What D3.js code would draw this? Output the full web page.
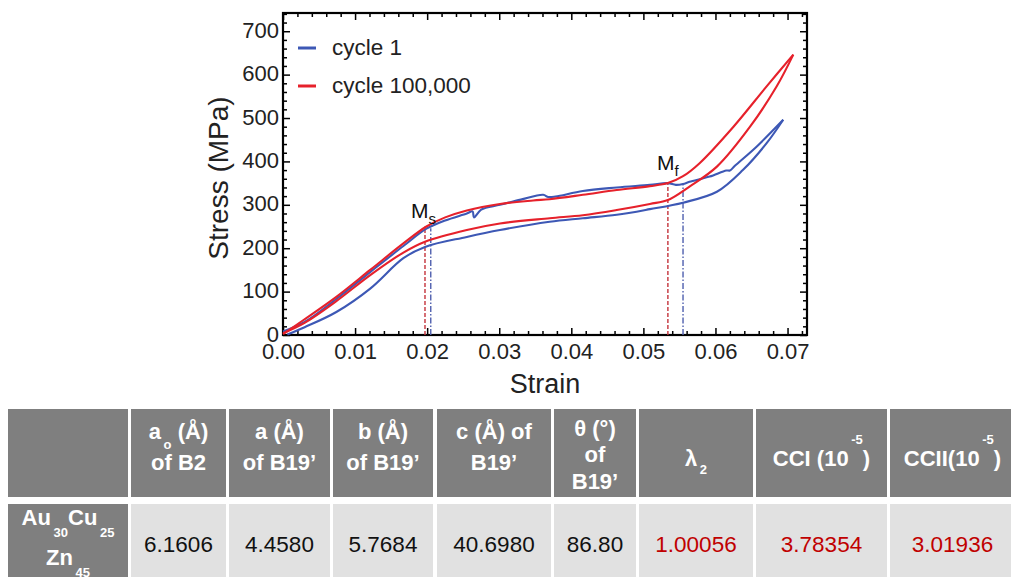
<!DOCTYPE html>
<html>
<head>
<meta charset="utf-8">
<script src="https://cdn.jsdelivr.net/npm/d3@7"></script>
<style>
  body { margin: 0; background: #fff; }
  svg { display: block; font-family: "Liberation Sans", Arial, sans-serif; }
</style>
</head>
<body>
<script>
// ---- data ----
var xTicks = [0, 0.01, 0.02, 0.03, 0.04, 0.05, 0.06, 0.07];
var yTicks = [0, 100, 200, 300, 400, 500, 600, 700];

// [strain, stress MPa]
var cycle1Loading = [
  [0.0000, 8], [0.0030, 30], [0.0074, 83], [0.0121, 145], [0.0167, 205],
  [0.0199, 245], [0.0225, 264], [0.0255, 280], [0.0263, 285], [0.0265, 271],
  [0.0275, 289], [0.0301, 300], [0.0330, 312], [0.0361, 323], [0.0368, 318],
  [0.0378, 319], [0.0416, 332], [0.0463, 340], [0.0509, 346], [0.0534, 350],
  [0.0545, 346], [0.0555, 348], [0.0564, 353], [0.0592, 365], [0.0615, 379],
  [0.0620, 379], [0.0627, 390], [0.0657, 434], [0.0694, 496]
];
var cycle1Unloading = [
  [0.0694, 496], [0.0671, 442], [0.0638, 380], [0.0602, 330], [0.0555, 305],
  [0.0509, 290], [0.0463, 277], [0.0416, 269], [0.0370, 261], [0.0301, 242],
  [0.0255, 226], [0.0197, 203], [0.0167, 177], [0.0121, 107], [0.0074, 53],
  [0.0030, 18], [0.0006, 1]
];
var cycle100kLoading = [
  [0.0000, 2], [0.0028, 34], [0.0074, 88], [0.0121, 150], [0.0167, 211],
  [0.0199, 250], [0.0225, 271], [0.0255, 287], [0.0301, 302], [0.0347, 310],
  [0.0370, 313], [0.0416, 323], [0.0463, 334], [0.0509, 343], [0.0534, 350],
  [0.0555, 366], [0.0578, 396], [0.0625, 480], [0.0671, 573], [0.0708, 646]
];
var cycle100kUnloading = [
  [0.0708, 646], [0.0685, 573], [0.0648, 480], [0.0602, 388], [0.0564, 342],
  [0.0534, 311], [0.0509, 302], [0.0463, 288], [0.0416, 276], [0.0370, 269],
  [0.0301, 257], [0.0255, 242], [0.0197, 215], [0.0167, 190], [0.0121, 138],
  [0.0074, 78], [0.0030, 28], [0.0000, 4]
];

// transformation markers: strain and stress where the guide line stops
var msMarkers = [[0.0197, 250, "red"], [0.0205, 246, "blue"]];
var mfMarkers = [[0.0534, 350, "red"], [0.0555, 347, "blue"]];

var legendLabels = ["cycle 1", "cycle 100,000"];

// table
var headerLabels = [
  "",
  "a_{o} (Å)|of B2",
  "a (Å)|of B19’",
  "b (Å)|of B19’",
  "c (Å) of|B19’",
  "θ (°)|of|B19’",
  "λ_{2}",
  "CCI (10^{-5})",
  "CCII(10^{-5})"
];
var rowLabel = "Au_{30}Cu_{25}|Zn_{45}";
var rowValues = ["6.1606", "4.4580", "5.7684", "40.6980", "86.80", "1.00056", "3.78354", "3.01936"];
var redColumns = [5, 6, 7]; // index into rowValues

// ---- setup ----
var W = 1011, H = 577;
var blue = "#3d58b5", red = "#e6212b";
var svg = d3.select("body").append("svg")
    .attr("width", W).attr("height", H);

var x = d3.scaleLinear().domain([0, 0.0727]).range([283, 807]);
var y = d3.scaleLinear().domain([0, 742]).range([335, 13]);

var plot = svg.append("g");

// minor ticks
var xMinor = d3.range(0, 0.0727, 0.002).filter(function (v) {
    return Math.abs(v * 100 - Math.round(v * 100)) > 1e-6;
});
var yMinor = d3.range(0, 742, 20).filter(function (v) { return v % 100 !== 0; });

function styleAxis(g) {
    g.select(".domain").remove();
    g.selectAll(".tick line").attr("stroke", "#000").attr("stroke-width", 1.5);
    g.selectAll("text").attr("fill", "#222").style("font-size", "22px")
        .style("font-family", "'Liberation Sans', Arial, sans-serif");
}

// bottom
plot.append("g").attr("transform", "translate(0," + y(0) + ")")
    .call(d3.axisBottom(x).tickValues(xTicks).tickSize(-7).tickPadding(8)
        .tickFormat(d3.format(".2f")))
    .call(styleAxis);
plot.append("g").attr("transform", "translate(0," + y(0) + ")")
    .call(d3.axisBottom(x).tickValues(xMinor).tickSize(-4).tickFormat(""))
    .call(styleAxis);
// top
plot.append("g").attr("transform", "translate(0," + y.range()[1] + ")")
    .call(d3.axisTop(x).tickValues(xTicks).tickSize(-7).tickFormat(""))
    .call(styleAxis);
plot.append("g").attr("transform", "translate(0," + y.range()[1] + ")")
    .call(d3.axisTop(x).tickValues(xMinor).tickSize(-4).tickFormat(""))
    .call(styleAxis);
// left
plot.append("g").attr("transform", "translate(" + x(0) + ",0)")
    .call(d3.axisLeft(y).tickValues(yTicks).tickSize(-7).tickPadding(4))
    .call(styleAxis)
    .selectAll(".tick text").attr("dy", "0.28em");
plot.append("g").attr("transform", "translate(" + x(0) + ",0)")
    .call(d3.axisLeft(y).tickValues(yMinor).tickSize(-4).tickFormat(""))
    .call(styleAxis);
// right
plot.append("g").attr("transform", "translate(" + x.range()[1] + ",0)")
    .call(d3.axisRight(y).tickValues(yTicks).tickSize(-7).tickFormat(""))
    .call(styleAxis);
plot.append("g").attr("transform", "translate(" + x.range()[1] + ",0)")
    .call(d3.axisRight(y).tickValues(yMinor).tickSize(-4).tickFormat(""))
    .call(styleAxis);

// frame
plot.append("rect")
    .attr("x", x.range()[0]).attr("y", y.range()[1])
    .attr("width", x.range()[1] - x.range()[0])
    .attr("height", y.range()[0] - y.range()[1])
    .attr("fill", "none").attr("stroke", "#000").attr("stroke-width", 2.2);

// guide lines
function guides(markers) {
    plot.selectAll(null).data(markers).enter().append("line")
        .attr("x1", function (d) { return x(d[0]); })
        .attr("x2", function (d) { return x(d[0]); })
        .attr("y1", y(0))
        .attr("y2", function (d) { return y(d[1]); })
        .attr("stroke", function (d) { return d[2] === "red" ? "#c4333b" : "#4f5fae"; })
        .attr("stroke-width", 1.4)
        .attr("stroke-dasharray", function (d) { return d[2] === "red" ? "4,2" : "6,2,1.5,2"; });
}
guides(msMarkers);
guides(mfMarkers);

// curves
var line = d3.line()
    .x(function (d) { return x(d[0]); })
    .y(function (d) { return y(d[1]); })
    .curve(d3.curveCatmullRom.alpha(0.5));

[[cycle1Loading, blue], [cycle1Unloading, blue],
 [cycle100kUnloading, red], [cycle100kLoading, red]].forEach(function (c) {
    plot.append("path")
        .attr("d", line(c[0]))
        .attr("fill", "none")
        .attr("stroke", c[1])
        .attr("stroke-width", 2.1)
        .attr("stroke-linejoin", "round");
});

// Ms / Mf labels
function markLabel(m, sub, dx, dy) {
    var t = plot.append("text")
        .attr("x", x(m[0]) + dx).attr("y", y(m[1]) + dy)
        .attr("fill", "#111").style("font-size", "21px");
    t.append("tspan").text("M");
    t.append("tspan").attr("dy", 6).style("font-size", "15px").text(sub);
}
markLabel(msMarkers[0], "s", -14, -9);
markLabel(mfMarkers[0], "f", -11, -13);

// legend
var legend = plot.append("g");
legend.selectAll("line").data(legendLabels).enter().append("line")
    .attr("x1", 298).attr("x2", 316)
    .attr("y1", function (d, i) { return 48 + i * 38; })
    .attr("y2", function (d, i) { return 48 + i * 38; })
    .attr("stroke", function (d, i) { return i === 0 ? blue : red; })
    .attr("stroke-width", 3);
legend.selectAll("text").data(legendLabels).enter().append("text")
    .attr("x", 332)
    .attr("y", function (d, i) { return 55 + i * 38; })
    .attr("fill", "#222").style("font-size", "22.5px")
    .text(function (d) { return d; });

// axis titles
plot.append("text")
    .attr("x", (x.range()[0] + x.range()[1]) / 2).attr("y", 393)
    .attr("text-anchor", "middle").attr("fill", "#222")
    .style("font-size", "27px").text("Strain");
plot.append("text")
    .attr("transform", "translate(228,178) rotate(-90)")
    .attr("text-anchor", "middle").attr("fill", "#222")
    .style("font-size", "28px").text("Stress (MPa)");

// ---- table ----
var colEdges = [[8, 128], [131, 226], [229, 330], [333, 433], [437, 551],
                [554, 636], [639, 753], [756, 887], [890, 1015]];
var headTop = 409, headBottom = 497, rowTop = 504, rowBottom = 585;
var gray = "#7f7f7f", light = "#e1e1e1";

// parses "a_{o} (Å)" style markup into tspans
function richLine(textSel, str, fs, subDy, supDy) {
    var re = /(_\{[^}]*\}|\^\{[^}]*\})/;
    var parts = str.split(re).filter(function (p) { return p.length; });
    var shift = 0;
    parts.forEach(function (p) {
        if (p[0] === "_" || p[0] === "^") {
            var d = p[0] === "_" ? subDy : supDy;
            textSel.append("tspan").attr("dy", d - shift)
                .style("font-size", Math.round(fs * 0.6) + "px")
                .text("\u2009" + p.slice(2, -1));
            shift = d;
        } else {
            var ts = textSel.append("tspan").text(p);
            if (shift !== 0) { ts.attr("dy", -shift); shift = 0; }
        }
    });
}

var table = svg.append("g");
table.selectAll(".hcell").data(colEdges).enter().append("rect")
    .attr("x", function (d) { return d[0]; }).attr("y", headTop)
    .attr("width", function (d) { return d[1] - d[0]; })
    .attr("height", headBottom - headTop)
    .attr("fill", gray);
table.selectAll(".rcell").data(colEdges).enter().append("rect")
    .attr("x", function (d) { return d[0]; }).attr("y", rowTop)
    .attr("width", function (d) { return d[1] - d[0]; })
    .attr("height", rowBottom - rowTop)
    .attr("fill", function (d, i) { return i === 0 ? gray : light; });

var baselines = { 1: [466], 2: [439, 470], 3: [436, 462, 489] };
headerLabels.forEach(function (lab, i) {
    if (!lab) return;
    var lines = lab.split("|");
    var cx = (colEdges[i][0] + colEdges[i][1]) / 2;
    lines.forEach(function (ln, k) {
        var t = table.append("text")
            .attr("x", cx).attr("y", baselines[lines.length][k])
            .attr("text-anchor", "middle").attr("fill", "#fff")
            .style("font-weight", "bold").style("font-size", "22px");
        richLine(t, ln, 22, lines.length === 1 ? 8 : 10, -22);
    });
});

rowLabel.split("|").forEach(function (ln, k) {
    var t = table.append("text")
        .attr("x", (colEdges[0][0] + colEdges[0][1]) / 2)
        .attr("y", [525, 565][k])
        .attr("text-anchor", "middle").attr("fill", "#fff")
        .style("font-weight", "bold").style("font-size", "22px");
    richLine(t, ln, 22, 12, -12);
});

rowValues.forEach(function (v, i) {
    var c = colEdges[i + 1];
    table.append("text")
        .attr("x", (c[0] + c[1]) / 2).attr("y", 552)
        .attr("text-anchor", "middle")
        .attr("fill", redColumns.indexOf(i) >= 0 ? "#c00000" : "#111")
        .style("font-size", "22.5px")
        .text(v);
});
</script>
</body>
</html>
